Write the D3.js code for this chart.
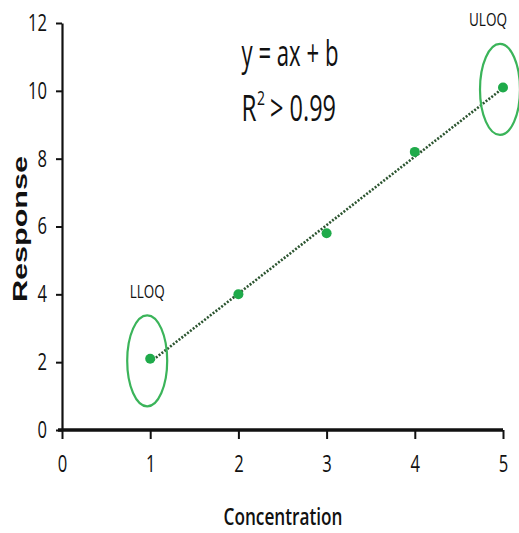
<!DOCTYPE html>
<html>
<head>
<meta charset="utf-8">
<script src="https://cdn.jsdelivr.net/npm/d3@7"></script>
<style>
  body { margin: 0; background: #fff; }
  text { font-family: 'Open Sans', sans-serif; fill: #111; }
</style>
</head>
<body>
<div id="chart"></div>
<script>
// calibration points
const concentration = [1, 2, 3, 4, 5]
const response = [2.1, 4.0, 5.8, 8.2, 10.1]
const xTicks = [0, 1, 2, 3, 4, 5]
const yTicks = [0, 2, 4, 6, 8, 10, 12]
const limits = [{ label: 'LLOQ', index: 0 }, { label: 'ULOQ', index: 4 }]

const size = { width: 519, height: 533 }

const svg = d3.select('#chart').append('svg')
  .attr('width', size.width)
  .attr('height', size.height)

const x = d3.scaleLinear().domain([0, 5]).range([62, 503])
const y = d3.scaleLinear().domain([0, 12]).range([430, 23])

const points = concentration.map((c, i) => ({ x: c, y: response[i] }))

// least squares fit for the dotted trend line
const mx = d3.mean(points, (d) => d.x)
const my = d3.mean(points, (d) => d.y)
const slope = d3.sum(points, (d) => (d.x - mx) * (d.y - my)) / d3.sum(points, (d) => (d.x - mx) ** 2)
const intercept = my - slope * mx
const fit = d3.extent(concentration).map((c) => [x(c), y(slope * c + intercept)])

// squeeze a text horizontally to a given width, keeping its anchor
const squeeze = (sel, width) => sel.each((d, i, nodes) => {
  const node = nodes[i]
  const w = typeof width === 'function' ? width(d) : width
  const len = node.getComputedTextLength()
  const ax = +node.getAttribute('x') || 0
  node.setAttribute('x', ax / (w / len))
  const t = node.getAttribute('transform') || ''
  node.setAttribute('transform', `${t} scale(${w / len},1)`)
})

// axes
const yAxis = svg.append('g')
  .attr('transform', `translate(${x(0)},0)`)
  .call(d3.axisLeft(y).tickValues(yTicks).tickFormat(d3.format('d')).tickSize(6).tickSizeOuter(0).tickPadding(9))
yAxis.select('.domain').attr('stroke-width', 2.2).attr('stroke', '#111')
yAxis.selectAll('.tick line').attr('stroke-width', 2).attr('stroke', '#111')
yAxis.selectAll('.tick text')
  .style('font-size', '23px')
  .call(squeeze, (d) => String(d).length * 9.5)

const xAxis = svg.append('g')
  .attr('transform', `translate(0,${y(0)})`)
  .call(d3.axisBottom(x).tickValues(xTicks).tickFormat(d3.format('d')).tickSize(9).tickSizeOuter(0).tickPadding(16))
xAxis.select('.domain').attr('stroke-width', 3.5).attr('stroke', '#111').attr('d', `M${x(0) - 4},0H${x(5)}`)
xAxis.selectAll('.tick line').attr('stroke-width', 2).attr('stroke', '#111')
xAxis.selectAll('.tick text')
  .style('font-size', '24px')
  .call(squeeze, 9.5)

// trend line
svg.append('path')
  .attr('d', d3.line()(fit))
  .attr('fill', 'none')
  .attr('stroke', '#2c5530')
  .attr('stroke-width', 2.6)
  .attr('stroke-dasharray', '2,1.6')

svg.selectAll('.pt')
  .data(points)
  .enter()
  .append('circle')
  .attr('class', 'pt')
  .attr('cx', (d) => x(d.x))
  .attr('cy', (d) => y(d.y))
  .attr('r', 5)
  .attr('fill', '#1faa4a')

// limit rings and labels
const lim = svg.selectAll('.limit')
  .data(limits)
  .enter()
  .append('g')
  .attr('class', 'limit')
lim.append('ellipse')
  .attr('cx', (d) => x(points[d.index].x) - 3)
  .attr('cy', (d) => y(points[d.index].y) + 2)
  .attr('rx', 20)
  .attr('ry', 45.5)
  .attr('fill', 'none')
  .attr('stroke', '#3bb45a')
  .attr('stroke-width', 2.2)
lim.append('text')
  .attr('x', (d) => x(points[d.index].x) - (d.index ? 15 : 3))
  .attr('y', (d) => y(points[d.index].y) + 2 - 63)
  .attr('text-anchor', 'middle')
  .style('font-size', '19px')
  .text((d) => d.label)
  .call(squeeze, (d) => d.index ? 38 : 35)

// equation
svg.append('text')
  .attr('x', 290).attr('y', 66)
  .attr('text-anchor', 'middle')
  .style('font-size', '36px')
  .text('y = ax + b')
  .call(squeeze, 97)

svg.append('text')
  .attr('x', 249).attr('y', 121)
  .attr('text-anchor', 'middle')
  .style('font-size', '36px')
  .text('R')
  .call(squeeze, 15)
svg.append('text')
  .attr('x', 261).attr('y', 105)
  .attr('text-anchor', 'middle')
  .style('font-size', '20px')
  .text('2')
  .call(squeeze, 8)
svg.append('text')
  .attr('x', 303).attr('y', 121)
  .attr('text-anchor', 'middle')
  .style('font-size', '36px')
  .text('> 0.99')
  .call(squeeze, 66)

// axis titles
svg.append('text')
  .attr('x', 283).attr('y', 525)
  .attr('text-anchor', 'middle')
  .style('font-size', '24px')
  .style('font-weight', 600)
  .text('Concentration')
  .call(squeeze, 119)

svg.append('text')
  .attr('transform', 'translate(27,229) rotate(-90)')
  .attr('text-anchor', 'middle')
  .style('font-family', "'Liberation Sans', Arial, sans-serif")
  .style('font-size', '21px')
  .style('font-weight', 'bold')
  .attr('textLength', 146)
  .attr('lengthAdjust', 'spacingAndGlyphs')
  .text('Response')
</script>
</body>
</html>
